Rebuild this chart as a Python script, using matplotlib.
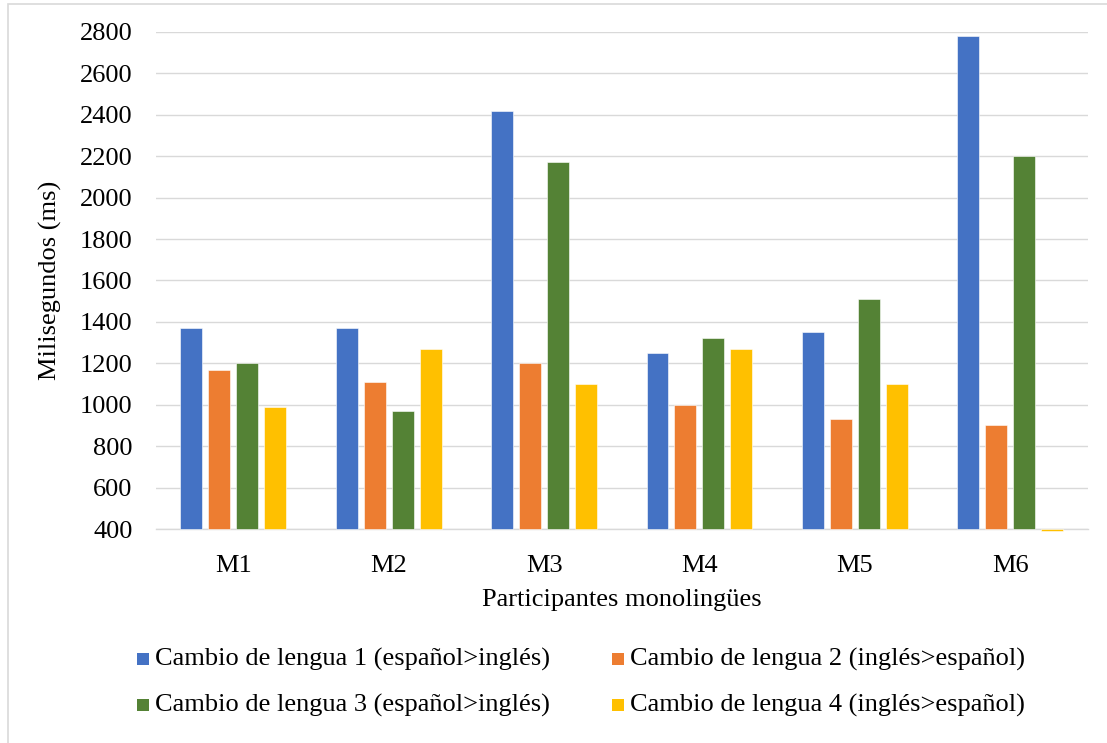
import matplotlib
matplotlib.use("Agg")
import matplotlib.pyplot as plt
from matplotlib.patches import Rectangle
import numpy as np

# Data
participants = ["M1", "M2", "M3", "M4", "M5", "M6"]
cambio_1 = [1370, 1370, 2420, 1250, 1350, 2780]   # español>inglés
cambio_2 = [1170, 1110, 1200, 1000, 930, 900]     # inglés>español
cambio_3 = [1200, 970, 2170, 1320, 1510, 2200]    # español>inglés
cambio_4 = [990, 1270, 1100, 1270, 1100, 390]     # inglés>español
series_labels = [
    "Cambio de lengua 1 (español>inglés)",
    "Cambio de lengua 2 (inglés>español)",
    "Cambio de lengua 3 (español>inglés)",
    "Cambio de lengua 4 (inglés>español)",
]
y_ticks = [400, 600, 800, 1000, 1200, 1400, 1600, 1800, 2000, 2200, 2400, 2600, 2800]

colors = ["#4472C4", "#ED7D31", "#548235", "#FFC000"]
series = [cambio_1, cambio_2, cambio_3, cambio_4]

plt.rcParams["font.family"] = ["Liberation Serif", "DejaVu Serif"]
FS = 19

W, H = 1107, 743
fig = plt.figure(figsize=(W / 100, H / 100), dpi=100)

# chart-area border
fig.patches.append(Rectangle((8 / W, -0.05), 1.2, (H - 4) / H + 0.05,
                             transform=fig.transFigure, fill=False,
                             edgecolor="#D9D9D9", linewidth=1.2))

ax = fig.add_axes([155.5 / W, 1 - 529 / H, 932.5 / W, 497 / H])

base = 400
x = np.arange(len(participants))
pitch = 0.18
width = 0.1415
for i, (vals, col) in enumerate(zip(series, colors)):
    offs = (i - 1.5) * pitch
    heights = [v - base for v in vals]
    ax.bar(x + offs, heights, width=width, bottom=base, color=col,
           edgecolor="white", linewidth=0.4, zorder=3, clip_on=False)

ax.set_xlim(-0.5, len(participants) - 0.5)
ax.set_ylim(400, 2800)
ax.set_yticks(y_ticks)
ax.set_yticklabels([str(t) for t in y_ticks], fontsize=FS)
ax.set_xticks(x)
ax.set_xticklabels(participants, fontsize=FS)
ax.tick_params(axis="y", length=0, pad=16.5)
ax.tick_params(axis="x", length=0, pad=18.5)
ax.grid(axis="y", color="#D9D9D9", linewidth=1.0, zorder=0)
for s in ["top", "right", "left"]:
    ax.spines[s].set_visible(False)
ax.spines["bottom"].set_color("#D9D9D9")
ax.spines["bottom"].set_linewidth(1.0)

ax.set_ylabel("Milisegundos (ms)", fontsize=FS, labelpad=13)
ax.set_xlabel("Participantes monolingües", fontsize=FS, labelpad=9)

# legend, two columns
sq = 12
legend_pos = [(137, 659), (612, 659), (137, 705), (612, 705)]
for (lx, ly), col, lab in zip(legend_pos, colors, series_labels):
    fig.patches.append(Rectangle((lx / W, 1 - (ly + sq / 2) / H), sq / W, sq / H,
                                 transform=fig.transFigure, facecolor=col,
                                 edgecolor="none"))
    fig.text((lx + sq + 6) / W, 1 - ly / H, lab, fontsize=FS,
             va="center", ha="left")

fig.savefig("out.png", dpi=100)
